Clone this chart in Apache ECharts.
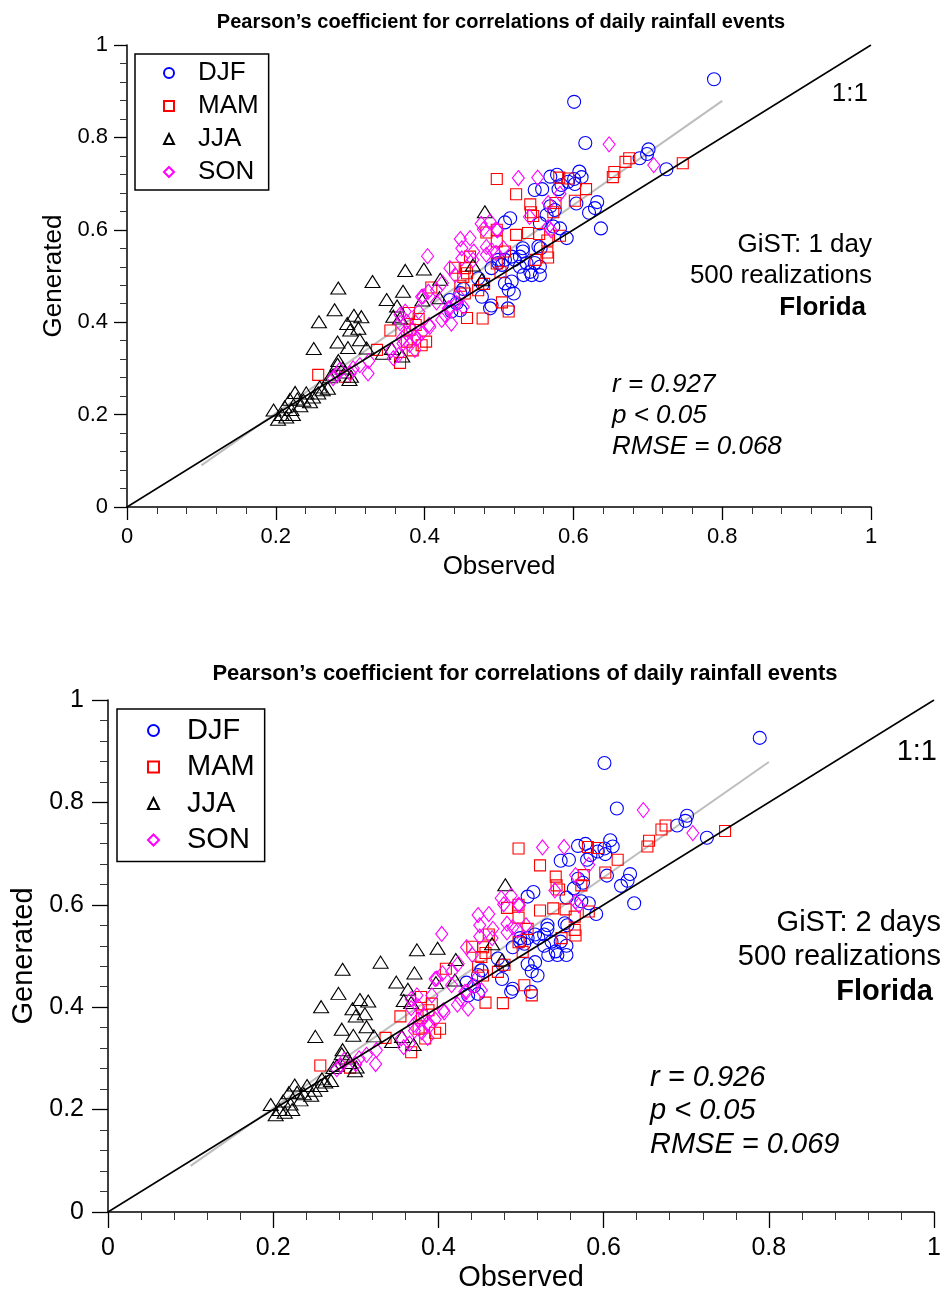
<!DOCTYPE html>
<html><head><meta charset="utf-8">
<script src="https://cdn.jsdelivr.net/npm/echarts@6/dist/echarts.min.js"></script>
<style>html,body{margin:0;padding:0;background:#fff}#c{width:944px;height:1293px}</style>
</head><body><div id="c"></div>
<script>
// ---------------- data ----------------
const seasons = ['DJF', 'MAM', 'JJA', 'SON'];
const axisTicks = [0, 0.2, 0.4, 0.6, 0.8, 1];

const djf = [[0.789,0.926],[0.601,0.877],[0.616,0.788],[0.689,0.755],[0.699,0.764],[0.701,0.774],[0.725,0.731],[0.637,0.603],[0.621,0.637],[0.629,0.647],[0.632,0.660],[0.604,0.657],[0.608,0.726],[0.611,0.714],[0.601,0.710],[0.578,0.719],[0.569,0.715],[0.584,0.697],[0.593,0.704],[0.602,0.699],[0.548,0.686],[0.558,0.688],[0.580,0.688],[0.569,0.651],[0.564,0.632],[0.575,0.643],[0.555,0.614],[0.573,0.607],[0.582,0.603],[0.591,0.582],[0.508,0.616],[0.515,0.625],[0.532,0.553],[0.521,0.535],[0.499,0.535],[0.504,0.524],[0.553,0.564],[0.555,0.520],[0.542,0.509],[0.528,0.520],[0.488,0.430],[0.477,0.455],[0.513,0.470],[0.508,0.484],[0.517,0.488],[0.533,0.502],[0.544,0.502],[0.555,0.502],[0.537,0.528],[0.528,0.542],[0.548,0.528],[0.443,0.441],[0.448,0.426],[0.436,0.423],[0.448,0.463],[0.434,0.448],[0.490,0.517],[0.499,0.528],[0.508,0.535],[0.517,0.542],[0.472,0.495],[0.478,0.482],[0.490,0.436],[0.512,0.430],[0.556,0.560],[0.532,0.560],[0.520,0.462],[0.452,0.472]];

const mam = [[0.257,0.286],[0.293,0.282],[0.336,0.340],[0.354,0.382],[0.367,0.312],[0.376,0.358],[0.384,0.339],[0.379,0.420],[0.392,0.407],[0.380,0.384],[0.388,0.394],[0.402,0.358],[0.396,0.350],[0.409,0.475],[0.441,0.518],[0.454,0.517],[0.461,0.542],[0.457,0.506],[0.452,0.498],[0.448,0.479],[0.454,0.462],[0.472,0.469],[0.480,0.483],[0.457,0.409],[0.478,0.408],[0.504,0.443],[0.513,0.423],[0.497,0.527],[0.502,0.508],[0.508,0.553],[0.483,0.594],[0.497,0.600],[0.497,0.575],[0.497,0.710],[0.523,0.677],[0.523,0.589],[0.539,0.593],[0.554,0.591],[0.565,0.577],[0.582,0.587],[0.565,0.551],[0.549,0.535],[0.566,0.540],[0.542,0.655],[0.543,0.638],[0.546,0.630],[0.576,0.658],[0.573,0.638],[0.581,0.713],[0.593,0.711],[0.653,0.714],[0.655,0.725],[0.617,0.688],[0.602,0.663],[0.670,0.747],[0.675,0.755],[0.747,0.744]];

const jja = [[0.374,0.512],[0.399,0.515],[0.330,0.488],[0.284,0.474],[0.421,0.493],[0.371,0.467],[0.349,0.449],[0.397,0.448],[0.420,0.453],[0.279,0.427],[0.363,0.435],[0.258,0.401],[0.305,0.415],[0.315,0.412],[0.358,0.413],[0.367,0.409],[0.296,0.397],[0.300,0.383],[0.311,0.387],[0.251,0.343],[0.283,0.357],[0.297,0.345],[0.313,0.362],[0.322,0.344],[0.344,0.333],[0.370,0.327],[0.356,0.343],[0.481,0.639],[0.465,0.524],[0.477,0.492],
  [0.197,0.210],[0.203,0.190],[0.208,0.200],[0.212,0.217],[0.214,0.195],[0.219,0.233],[0.221,0.211],[0.223,0.200],[0.226,0.248],[0.229,0.234],[0.233,0.219],[0.237,0.231],[0.241,0.247],[0.246,0.228],[0.250,0.238],[0.257,0.247],[0.259,0.260],[0.263,0.254],[0.270,0.257],[0.273,0.282],[0.277,0.286],[0.283,0.309],[0.293,0.292],[0.301,0.283],[0.290,0.301],[0.284,0.317],[0.299,0.276]];

const son = [[0.648,0.785],[0.708,0.740],[0.526,0.712],[0.552,0.713],[0.541,0.628],[0.566,0.658],[0.582,0.678],[0.479,0.601],[0.488,0.618],[0.497,0.600],[0.448,0.580],[0.461,0.582],[0.483,0.563],[0.490,0.556],[0.450,0.538],[0.465,0.535],[0.434,0.517],[0.441,0.502],[0.566,0.606],[0.570,0.599],[0.476,0.613],[0.498,0.599],[0.450,0.560],[0.466,0.553],[0.496,0.550],[0.506,0.560],[0.404,0.543],[0.483,0.546],[0.396,0.455],[0.405,0.466],[0.434,0.430],[0.443,0.441],[0.427,0.416],[0.423,0.405],[0.407,0.390],[0.396,0.376],[0.387,0.369],[0.383,0.383],[0.376,0.376],[0.371,0.354],[0.380,0.351],[0.387,0.340],[0.376,0.401],[0.367,0.398],[0.367,0.416],[0.358,0.322],[0.365,0.329],[0.324,0.289],[0.313,0.307],[0.304,0.300],[0.282,0.286],[0.277,0.279],[0.300,0.289],[0.286,0.297],[0.325,0.316],[0.355,0.339],[0.370,0.365],[0.374,0.423],[0.416,0.443],[0.432,0.430],[0.446,0.456],[0.452,0.433],[0.436,0.397],[0.406,0.394],[0.390,0.365],[0.416,0.469],[0.424,0.485],[0.398,0.456],[0.392,0.423]];

const oneToOne = [[0, 0], [1, 1]];
const fitLine = [[0.1, 0.09], [0.8, 0.879]];

const titleText = 'Pearson\u2019s coefficient for correlations of daily rainfall events';
const xName = 'Observed';
const yName = 'Generated';
const ratioLabel = '1:1';
const notes1 = ['GiST: 1 day', '500 realizations', 'Florida'];
const notes2 = ['GiST: 2 days', '500 realizations', 'Florida'];
const stats1 = ['r = 0.927', 'p < 0.05', 'RMSE = 0.068'];
const stats2 = ['r = 0.926', 'p < 0.05', 'RMSE = 0.069'];

// ---------------- styling / layout ----------------
const FONT = '"Liberation Sans", Arial, Helvetica, sans-serif';
const seasonStyle = {
  DJF: { symbol: 'circle', size: 13, color: '#0000ff' },
  MAM: { symbol: 'rect', size: 11, color: '#ff0000' },
  JJA: { symbol: 'triangle', size: [15, 12], color: '#000000' },
  SON: { symbol: 'diamond', size: [12, 15], color: '#ff00ff' }
};
const seasonData = { DJF: djf, MAM: mam, JJA: jja, SON: son };

const panels = [
  {
    grid: { left: 127, top: 45, width: 744, height: 462 },
    tick: 22, tickLen: 13, minorLen: 7, labelMargin: 19, nameSize: 26, xGap: 47, yGap: 60,
    legend: { left: 135, top: 54, padding: [6, 10, 5, 28], icon: 10, gap: 7, font: 26, textPad: 19 },
    title: { x: 501, y: 22, size: 20 },
    ratio: { x: 868, y: 94, size: 26 },
    notes: notes1, notesX: [872, 872, 866], notesY: [245, 276, 308], notesSize: 26,
    stats: stats1, statsX: 612, statsY: [385, 416, 447], statsSize: 26
  },
  {
    grid: { left: 108, top: 700, width: 830, height: 513 },
    tick: 25, tickLen: 16, minorLen: 8, labelMargin: 24, nameSize: 29, xGap: 51, yGap: 68,
    legend: { left: 117, top: 709, padding: [7, 10, 7, 30], icon: 11, gap: 7.5, font: 29, textPad: 23 },
    title: { x: 525, y: 674, size: 22 },
    ratio: { x: 937, y: 752, size: 29 },
    notes: notes2, notesX: [941, 941, 933], notesY: [923, 957, 992], notesSize: 29,
    stats: stats2, statsX: 650, statsY: [1078, 1111, 1145], statsSize: 29
  }
];

const grids = [], xAxes = [], yAxes = [], series = [], legends = [], graphics = [];

function axisCommon(p, name, gap) {
  return {
    type: 'value', min: axisTicks[0], max: axisTicks[axisTicks.length - 1],
    interval: axisTicks[1] - axisTicks[0],
    name: name, nameLocation: 'middle', nameGap: gap,
    nameTextStyle: { fontSize: p.nameSize, color: '#000', fontFamily: FONT },
    axisLine: { show: true, onZero: false, lineStyle: { color: '#000', width: 1.5 } },
    axisTick: { show: true, inside: false, length: p.tickLen, lineStyle: { color: '#000', width: 1.3 } },
    minorTick: { show: true, splitNumber: 5, length: p.minorLen, lineStyle: { color: '#333', width: 1 } },
    splitLine: { show: false }, minorSplitLine: { show: false },
    axisLabel: { fontSize: p.tick, color: '#000', margin: p.labelMargin, fontFamily: FONT }
  };
}

function txt(x, y, text, font, align, valign) {
  return {
    type: 'text', x: x, y: y, silent: true,
    style: { text: text, font: font, fill: '#000', align: align, verticalAlign: valign || 'middle',
             textAlign: align, textVerticalAlign: valign || 'middle' }
  };
}

panels.forEach((p, i) => {
  grids.push(Object.assign({ containLabel: false }, p.grid));
  xAxes.push(Object.assign({ gridIndex: i }, axisCommon(p, xName, p.xGap)));
  yAxes.push(Object.assign({ gridIndex: i }, axisCommon(p, yName, p.yGap)));

  series.push({
    type: 'line', xAxisIndex: i, yAxisIndex: i, data: fitLine, symbol: 'none', silent: true, z: 1,
    lineStyle: { color: '#bdbdbd', width: 2 }
  });
  seasons.forEach(s => {
    const st = seasonStyle[s];
    series.push({
      type: 'scatter', name: s, xAxisIndex: i, yAxisIndex: i, data: seasonData[s], z: 2,
      symbol: st.symbol, symbolSize: st.size,
      itemStyle: { color: 'rgba(0,0,0,0)', borderColor: st.color, borderWidth: 1.1, opacity: 1 }
    });
  });
  series.push({
    type: 'line', xAxisIndex: i, yAxisIndex: i, data: oneToOne, symbol: 'none', silent: true, z: 3,
    lineStyle: { color: '#000', width: 1.5 }
  });

  const L = p.legend;
  legends.push({
    data: seasons, orient: 'vertical', left: L.left, top: L.top, padding: L.padding,
    itemWidth: L.icon, itemHeight: L.icon, itemGap: L.gap, selectedMode: false,
    borderColor: '#000', borderWidth: 1.5, backgroundColor: '#fff',
    textStyle: { fontSize: L.font, lineHeight: L.font, color: '#000', fontFamily: FONT, padding: [0, 0, 0, L.textPad] }
  });

  graphics.push(txt(p.title.x, p.title.y, titleText, 'bold ' + p.title.size + 'px ' + FONT, 'center'));
  graphics.push(txt(p.ratio.x, p.ratio.y, ratioLabel, p.ratio.size + 'px ' + FONT, 'right'));
  p.notes.forEach((t, k) => {
    graphics.push(txt(p.notesX[k], p.notesY[k], t, (k === 2 ? 'bold ' : '') + p.notesSize + 'px ' + FONT, 'right'));
  });
  p.stats.forEach((t, k) => {
    graphics.push(txt(p.statsX, p.statsY[k], t, 'italic ' + p.statsSize + 'px ' + FONT, 'left'));
  });
});

const chart = echarts.init(document.getElementById('c'), null, { renderer: 'canvas' });
chart.setOption({
  animation: false,
  backgroundColor: '#fff',
  grid: grids, xAxis: xAxes, yAxis: yAxes, legend: legends, series: series,
  graphic: { elements: graphics }
});
</script></body></html>
